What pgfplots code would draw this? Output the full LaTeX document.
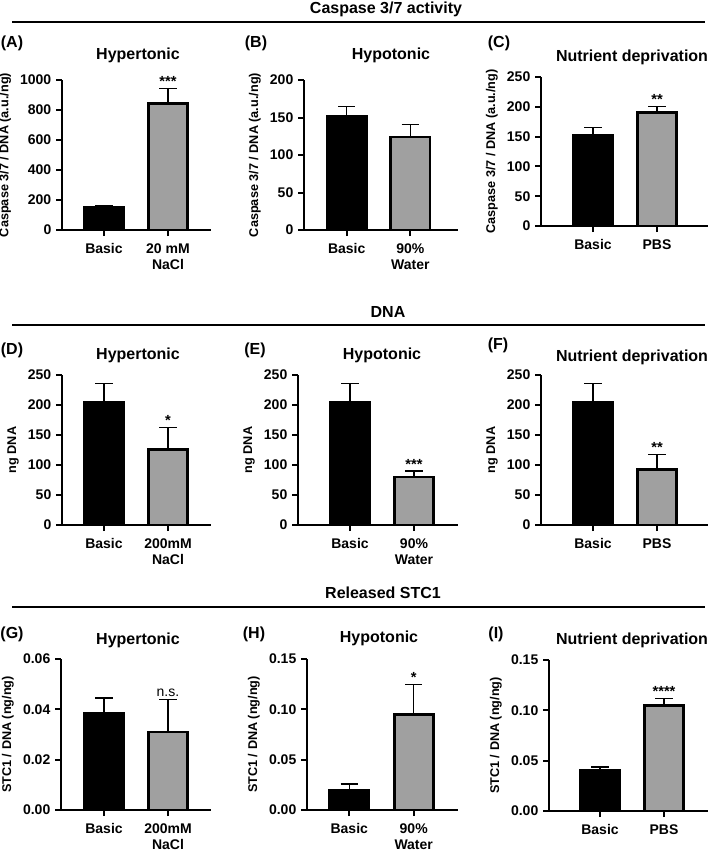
\documentclass[border=0pt]{standalone}
\usepackage{pgfplots}
\pgfplotsset{compat=1.18}
\usepackage{fontspec}
\setmainfont{Liberation Sans}
\definecolor{barg}{RGB}{160,160,160}
\pgfplotsset{
 panel/.style={
  scale only axis, ybar, bar width=29.5pt, bar shift=0pt,
  axis x line*=bottom, axis y line*=left,
  axis line style={line width=1.5pt, -},
  xtick={0,1}, tick align=outside,
  major tick length=4.5pt,
  every tick/.style={black, line width=1.5pt},
  ymin=0, anchor=south west,
  tick label style={font=\bfseries\fontsize{10.5}{12.5}\selectfont, black},
  xticklabel style={align=center, yshift=-2pt},
  ylabel style={font=\bfseries\fontsize{9.5}{11}\selectfont},
  /pgf/number format/assume math mode=true,
  /pgf/number format/1000 sep={},
  scaled y ticks=false,
  error bars/y dir=plus, error bars/y explicit,
  error bars/error bar style={line width=0.9pt, black},
  error bars/error mark options={rotate=90, line width=0.9pt, mark size=6.5pt, black},
  clip=false,
 },
 dec2/.style={yticklabel style={/pgf/number format/.cd, fixed, fixed zerofill, precision=2}},
 blackbar/.style={fill=black, draw=black, line width=2pt},
 greybar/.style={fill=barg, draw=black, line width=2.2pt},
}
\newcommand\sig[2]{\node[font=\bfseries\fontsize{11}{12}\selectfont, anchor=base, inner sep=0pt, yshift=1.5pt] at (axis cs:#1) {#2};}
\newcommand\signs[2]{\node[font=\fontsize{10.5}{12}\selectfont, anchor=base, inner sep=0pt, yshift=2.5pt] at (axis cs:#1) {#2};}
\begin{document}
\begin{tikzpicture}
\path[use as bounding box] (0,0) rectangle (531.75pt,-642pt);
% section titles and rules
\node[font=\bfseries\fontsize{12}{14}\selectfont] at (289.5pt,-6.75pt) {Caspase 3/7 activity};
\draw[line width=1.4pt] (9pt,-16.5pt) -- (528.75pt,-16.5pt);
\node[font=\bfseries\fontsize{12}{14}\selectfont] at (291pt,-234pt) {DNA};
\draw[line width=1.4pt] (9pt,-243.75pt) -- (528.75pt,-243.75pt);
\node[font=\bfseries\fontsize{12}{14}\selectfont] at (287.25pt,-444.75pt) {Released STC1};
\draw[line width=1.4pt] (9pt,-455.25pt) -- (528.75pt,-455.25pt);
% panel titles
\begin{scope}[every node/.style={font=\bfseries\fontsize{12}{14}\selectfont}]
\node at (103.5pt,-41.25pt) {Hypertonic};
\node at (293.25pt,-41.25pt) {Hypotonic};
\node at (474pt,-42.75pt) {Nutrient deprivation};
\node at (103.5pt,-266.25pt) {Hypertonic};
\node at (286.5pt,-266.25pt) {Hypotonic};
\node at (474pt,-267.75pt) {Nutrient deprivation};
\node at (103.5pt,-480pt) {Hypertonic};
\node at (284.25pt,-478.5pt) {Hypotonic};
\node at (474pt,-480pt) {Nutrient deprivation};
\node at (9pt,-32.25pt) {(A)};
\node at (192pt,-32.25pt) {(B)};
\node at (374.25pt,-32.25pt) {(C)};
\node at (9pt,-262.5pt) {(D)};
\node at (191.25pt,-262.5pt) {(E)};
\node at (373.5pt,-258.75pt) {(F)};
\node at (9pt,-475.5pt) {(G)};
\node at (190.5pt,-475.5pt) {(H)};
\node at (372pt,-475.5pt) {(I)};
\end{scope}
% (A)
\begin{axis}[panel, at={(46.5pt,-172.5pt)}, width=111.75pt, height=112.5pt,
  xmin=-0.656, xmax=1.672, ymax=1000, ytick={0,200,...,1000},
  xticklabels={Basic,{20 mM\\NaCl}}, ylabel={Caspase 3/7 / DNA (a.u./ng)}]
\addplot[blackbar] coordinates {(0,148) +- (0,14)};
\addplot[greybar] coordinates {(1,842) +- (0,103)};
\sig{1,945}{***}
\end{axis}
% (B)
\begin{axis}[panel, at={(228pt,-172.5pt)}, width=115.5pt, height=112.5pt,
  xmin=-0.672, xmax=1.75, ymax=200, ytick={0,50,...,200},
  xticklabels={Basic,{90\%\\Water}}, ylabel={Caspase 3/7 / DNA (a.u./ng)}]
\addplot[blackbar] coordinates {(0,152) +- (0,13)};
\addplot[greybar] coordinates {(1,124) +- (0,17)};
\end{axis}
% (C)
\begin{axis}[panel, at={(405.75pt,-169.5pt)}, width=125.25pt, height=111.75pt,
  xmin=-0.8125, xmax=1.797, ymax=250, ytick={0,50,...,250},
  xticklabels={Basic,PBS}, ylabel={Caspase 3/7 / DNA (a.u./ng)}]
\addplot[blackbar] coordinates {(0,152) +- (0,13)};
\addplot[greybar] coordinates {(1,191) +- (0,9)};
\sig{1,200}{**}
\end{axis}
% (D)
\begin{axis}[panel, at={(46.5pt,-393.75pt)}, width=111.75pt, height=112.5pt,
  xmin=-0.656, xmax=1.672, ymax=250, ytick={0,50,...,250},
  xticklabels={Basic,{200mM\\NaCl}}, ylabel={ng DNA}]
\addplot[blackbar] coordinates {(0,204) +- (0,32)};
\addplot[greybar] coordinates {(1,126) +- (0,36)};
\sig{1,162}{*}
\end{axis}
% (E)
\begin{axis}[panel, at={(223.5pt,-393.75pt)}, width=120pt, height=112.5pt,
  xmin=-0.8125, xmax=1.6875, ymax=250, ytick={0,50,...,250},
  xticklabels={Basic,{90\%\\Water}}, ylabel={ng DNA}]
\addplot[blackbar] coordinates {(0,204) +- (0,32)};
\addplot[greybar] coordinates {(1,80) +- (0,10)};
\sig{1,90}{***}
\end{axis}
% (F)
\begin{axis}[panel, at={(405.75pt,-393.75pt)}, width=125.25pt, height=112.5pt,
  xmin=-0.8125, xmax=1.797, ymax=250, ytick={0,50,...,250},
  xticklabels={Basic,PBS}, ylabel={ng DNA}]
\addplot[blackbar] coordinates {(0,204) +- (0,32)};
\addplot[greybar] coordinates {(1,93) +- (0,25)};
\sig{1,118}{**}
\end{axis}
% (G)
\begin{axis}[panel, dec2, at={(45.75pt,-607.5pt)}, width=112.5pt, height=113.25pt,
  xmin=-0.672, xmax=1.672, ymax=0.06, ytick={0,0.02,0.04,0.06},
  xticklabels={Basic,{200mM\\NaCl}}, ylabel={STC1 / DNA (ng/ng)}]
\addplot[blackbar] coordinates {(0,0.0385) +- (0,0.006)};
\addplot[greybar] coordinates {(1,0.031) +- (0,0.0128)};
\signs{1,0.0438}{n.s.}
\end{axis}
% (H)
\begin{axis}[panel, dec2, at={(230.25pt,-607.5pt)}, width=113.25pt, height=113.25pt,
  xmin=-0.656, xmax=1.6875, ymax=0.15, ytick={0,0.05,0.10,0.15},
  xticklabels={Basic,{90\%\\Water}}, ylabel={STC1 / DNA (ng/ng)}]
\addplot[blackbar] coordinates {(0,0.0195) +- (0,0.0063)};
\addplot[greybar] coordinates {(1,0.095) +- (0,0.030)};
\sig{1,0.125}{*}
\end{axis}
% (I)
\begin{axis}[panel, dec2, at={(411.75pt,-608.25pt)}, width=119.25pt, height=113.25pt,
  xmin=-0.797, xmax=1.6875, ymax=0.15, ytick={0,0.05,0.10,0.15},
  xticklabels={Basic,PBS}, ylabel={STC1 / DNA (ng/ng)}]
\addplot[blackbar] coordinates {(0,0.040) +- (0,0.0037)};
\addplot[greybar] coordinates {(1,0.105) +- (0,0.0065)};
\sig{1,0.112}{****}
\end{axis}
\end{tikzpicture}
\end{document}
